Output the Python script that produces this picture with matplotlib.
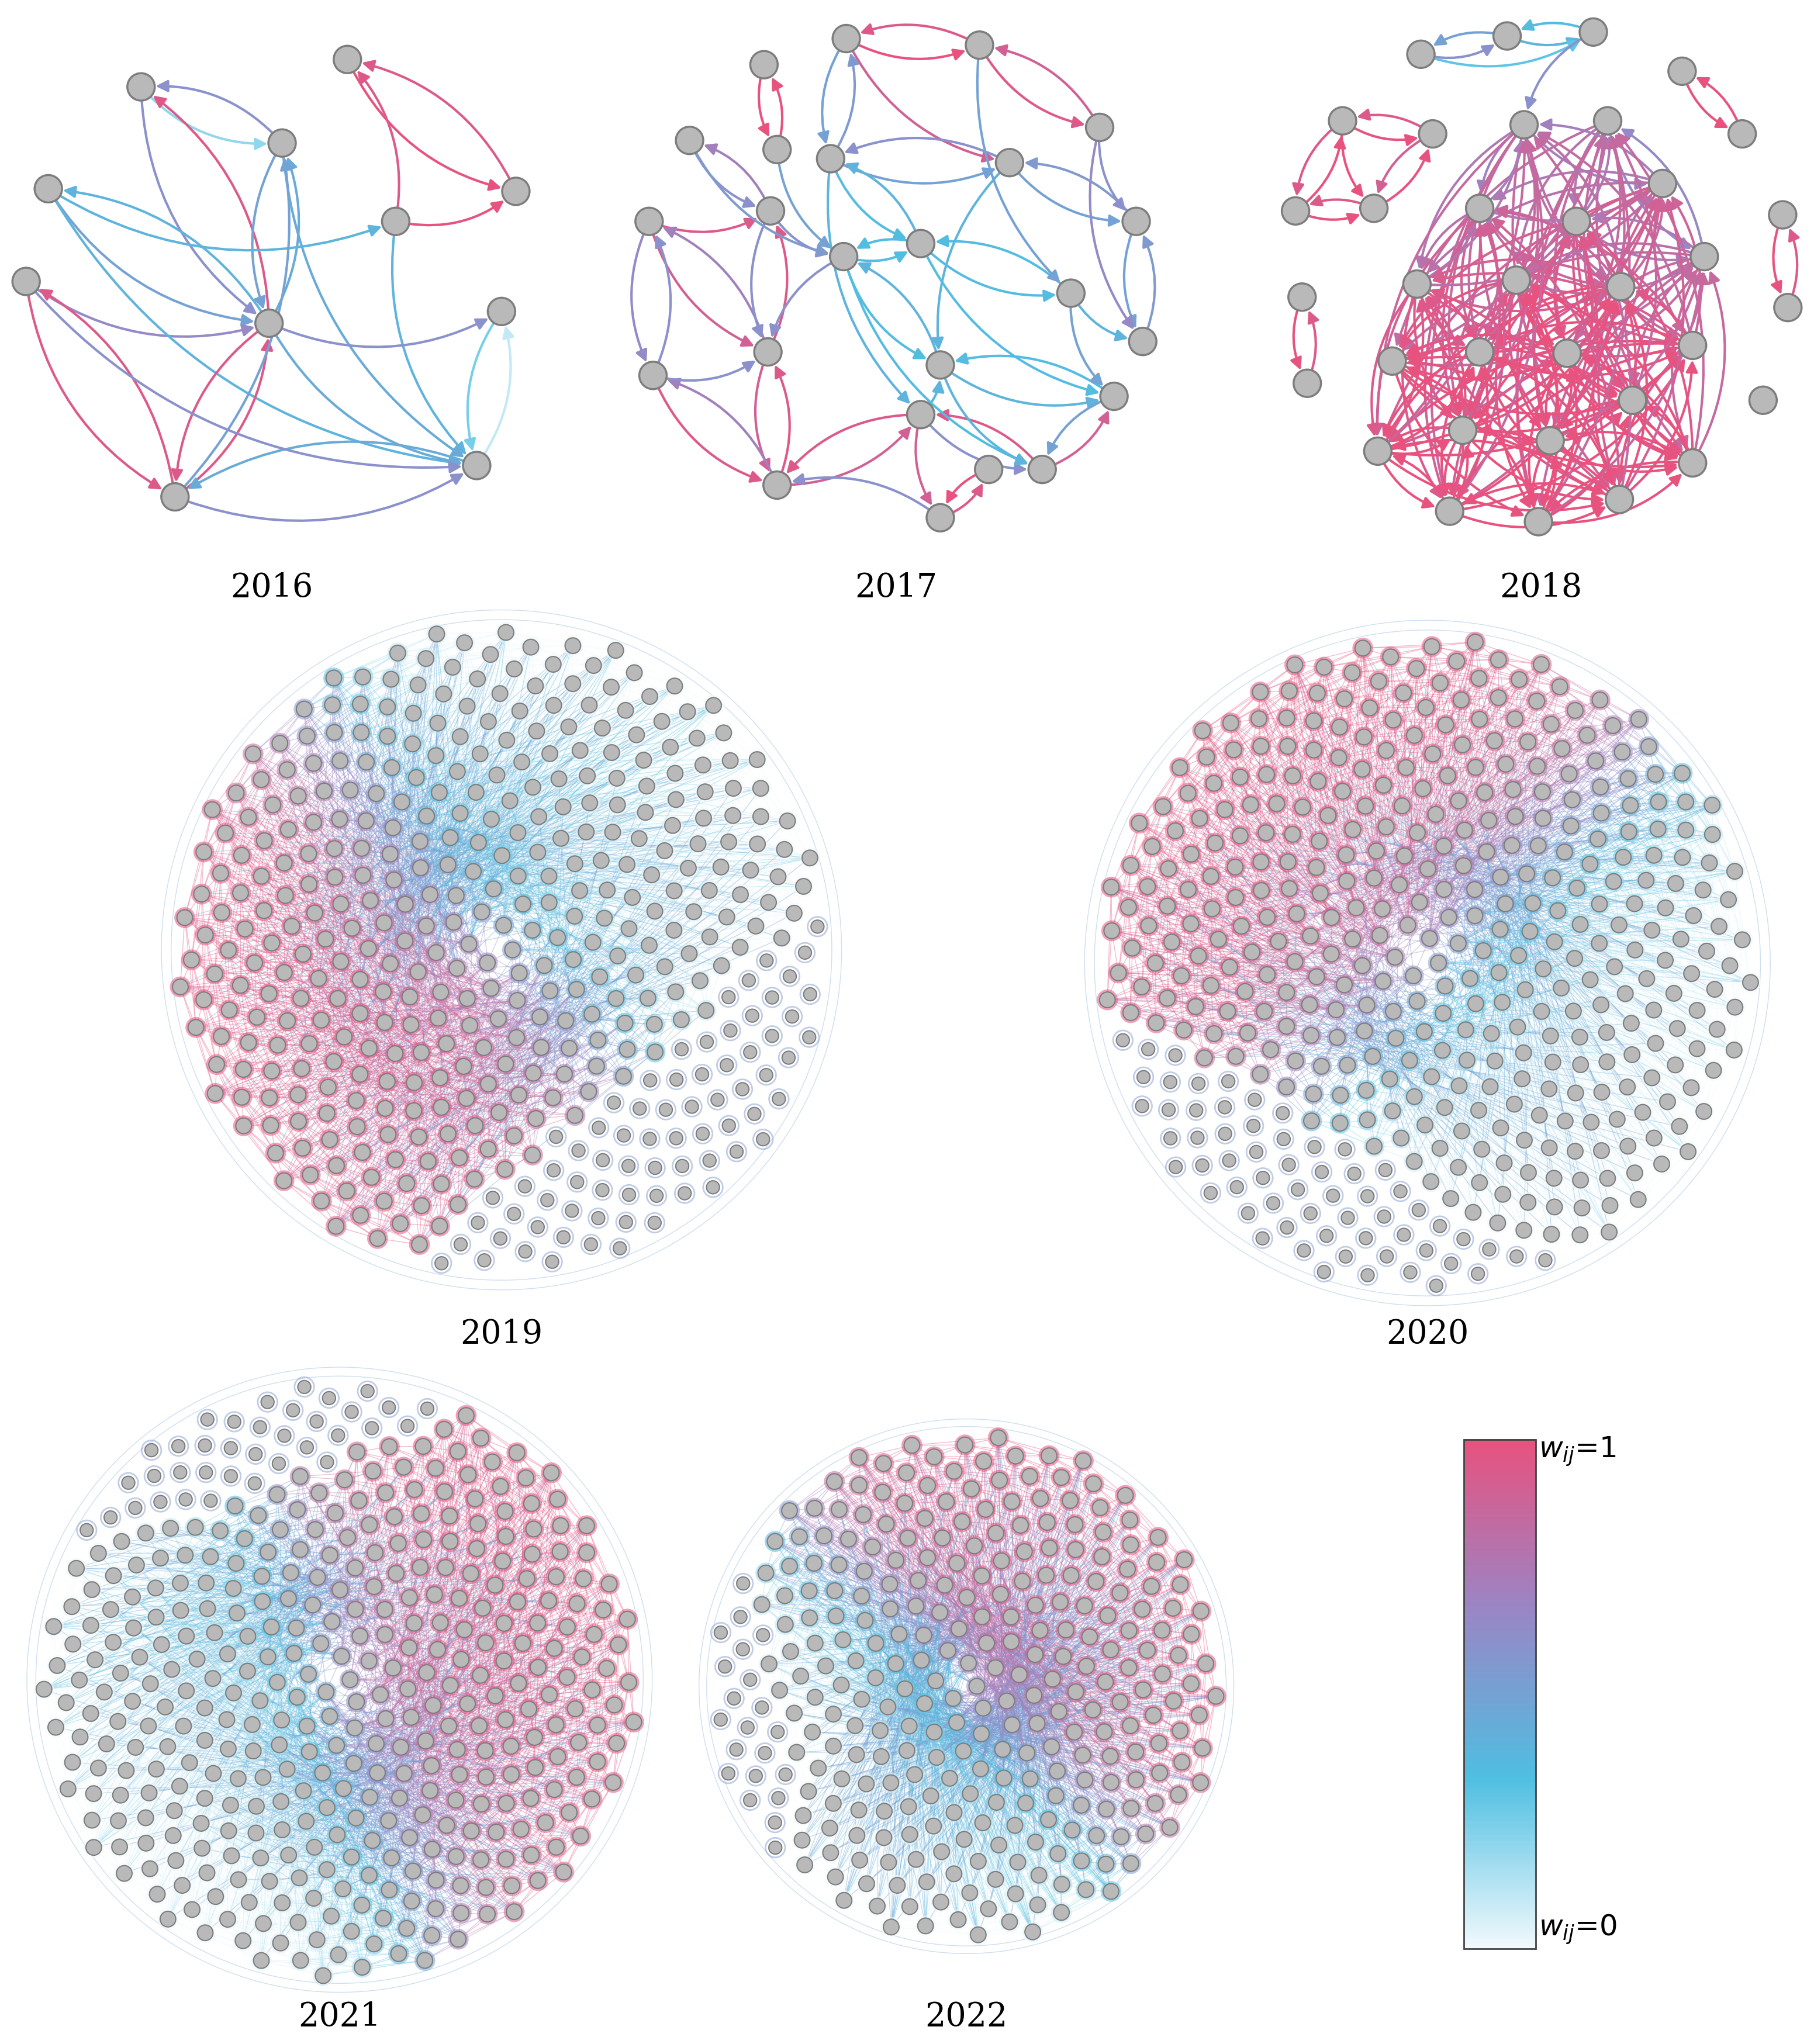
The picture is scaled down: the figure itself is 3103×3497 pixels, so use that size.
import numpy as np
import matplotlib
matplotlib.use("Agg")
import matplotlib.pyplot as plt
from matplotlib.patches import FancyArrowPatch, Circle, Rectangle
from matplotlib.collections import LineCollection
from matplotlib.colors import LinearSegmentedColormap

cmap = LinearSegmentedColormap.from_list("w", ["#f2fafd", "#4fbfe2", "#9a86c6", "#e8527f"])

# ---------------- data: small networks (node positions in layout units, edges with weights) ----
years = ["2016", "2017", "2018", "2019", "2020", "2021", "2022"]
label_pos = [(208, 450), (686, 450), (1180, 450), (384, 1022), (1093, 1022), (260, 1545), (740, 1545)]

nodes16 = [(108, 67), (266, 46), (216, 110), (37, 145), (303, 170), (395, 147), (20, 216),
           (206, 248), (384, 239), (365, 357), (134, 381)]
edges16 = [(1, 5, 1.0), (5, 1, 0.95), (4, 5, 1.0), (4, 1, 0.95), (0, 2, 0.2), (2, 0, 0.6),
           (0, 7, 0.6), (7, 0, 0.95), (3, 7, 0.5), (7, 3, 0.4), (6, 7, 0.65), (3, 9, 0.4),
           (4, 9, 0.4), (2, 9, 0.45), (6, 10, 0.95), (10, 6, 0.95), (7, 10, 0.95), (10, 7, 0.95),
           (7, 9, 0.45), (9, 10, 0.45), (10, 9, 0.6), (8, 9, 0.25), (9, 8, 0.1), (2, 7, 0.5),
           (7, 2, 0.45), (3, 4, 0.4), (7, 8, 0.6), (10, 2, 0.5), (6, 9, 0.6)]

nodes17 = [(585, 50), (595, 115), (648, 30), (750, 35), (842, 98), (773, 125), (636, 122),
           (528, 108), (590, 162), (497, 170), (870, 170), (705, 187), (646, 197), (820, 225),
           (588, 270), (720, 280), (875, 262), (500, 288), (705, 318), (853, 304), (595, 372),
           (720, 397), (757, 360), (798, 360)]
edges17 = [(0, 1, 1.0), (1, 0, 1.0), (2, 3, 1.0), (3, 2, 0.95), (2, 5, 0.9), (3, 4, 0.95),
           (4, 3, 0.9), (6, 5, 0.5), (5, 6, 0.6), (6, 11, 0.35), (11, 6, 0.4), (2, 6, 0.5),
           (6, 2, 0.55), (7, 8, 0.6), (8, 7, 0.7), (9, 8, 0.95), (9, 14, 0.9), (14, 9, 0.7),
           (8, 14, 0.6), (14, 8, 0.95), (12, 11, 0.35), (11, 12, 0.35), (12, 15, 0.35),
           (15, 12, 0.4), (11, 13, 0.35), (13, 11, 0.35), (5, 10, 0.5), (10, 5, 0.55),
           (4, 10, 0.6), (10, 16, 0.5), (16, 10, 0.55), (13, 16, 0.4), (15, 19, 0.4),
           (19, 15, 0.35), (13, 19, 0.5), (18, 15, 0.4), (14, 20, 0.9), (20, 14, 0.95),
           (17, 20, 0.95), (20, 17, 0.7), (17, 14, 0.6), (18, 20, 0.95), (20, 18, 0.9),
           (18, 21, 0.9), (21, 20, 0.6), (22, 21, 1.0), (21, 22, 0.95), (23, 18, 0.95),
           (18, 23, 0.6), (19, 23, 0.5), (23, 19, 0.9), (12, 23, 0.35), (6, 18, 0.4),
           (5, 15, 0.4), (9, 17, 0.65), (17, 9, 0.6), (1, 12, 0.5), (8, 12, 0.6), (3, 13, 0.5),
           (11, 19, 0.35), (12, 14, 0.6), (7, 12, 0.55), (4, 16, 0.65), (15, 23, 0.4)]

nodes18 = [(1088, 42), (1154, 28), (1220, 25), (1288, 55), (1334, 103), (1028, 93), (1097, 103),
           (992, 162), (1052, 160), (997, 228), (1001, 294), (1365, 165), (1369, 236), (1350, 307),
           (1167, 96), (1231, 93), (1133, 160), (1207, 170), (1273, 141), (1305, 197), (1085, 218),
           (1161, 215), (1241, 220), (1066, 277), (1133, 270), (1200, 271), (1296, 265), (1250, 307),
           (1120, 330), (1187, 338), (1055, 346), (1296, 355), (1110, 392), (1178, 400), (1240, 383)]
edges18_small = [(0, 1, 0.6), (1, 0, 0.5), (1, 2, 0.4), (2, 1, 0.35), (0, 2, 0.3), (3, 4, 1.0),
                 (4, 3, 1.0), (5, 6, 1.0), (6, 5, 0.95), (7, 5, 1.0), (5, 7, 0.95), (7, 8, 1.0),
                 (8, 7, 0.95), (8, 6, 1.0), (6, 8, 0.9), (5, 8, 1.0), (9, 10, 1.0), (10, 9, 0.95),
                 (11, 12, 1.0), (12, 11, 0.95), (2, 14, 0.6)]
core18 = list(range(14, 35))
core18_w = [0.6, 0.6, 0.7, 0.8, 0.7, 0.6, 0.8, 0.9, 0.9, 0.95, 1.0, 1.0, 0.95, 1.0, 1.0, 1.0,
            1.0, 1.0, 1.0, 1.0, 1.0]

# ---------------- data: large networks (node counts and layout regions) ----------------
big_n = [430, 440, 400, 300]
big_center = [(384, 728), (1093, 738), (260, 1287), (740, 1292)]
big_radius = [248, 250, 228, 195]
pink_dir = [140, 225, 340, 315]          # direction (deg, y down) of the strongly weighted lobe
gap_dir = [50, 120, 250, 170]            # direction of the sparse crescent of isolated nodes
gap_thr = [0.55, 0.6, 0.7, 0.75]

fig = plt.figure(figsize=(31.03, 34.98), dpi=100)
ax = fig.add_axes([0, 0, 1, 1])
ax.set_xlim(0, 1389)
ax.set_ylim(1566, 0)
ax.axis("off")

NODE_FC, NODE_EC = "#b9b9b9", "#7d7d7d"

def draw_small(nodes, edges, r=10.5):
    for a, b, w in edges:
        p = FancyArrowPatch(nodes[a], nodes[b], connectionstyle="arc3,rad=0.25",
                            arrowstyle="-|>", mutation_scale=30, lw=3.0,
                            color=cmap(w), shrinkA=16, shrinkB=18, zorder=2)
        ax.add_patch(p)
    for (x, y) in nodes:
        ax.add_patch(Circle((x, y), r, fc=NODE_FC, ec=NODE_EC, lw=2.5, zorder=5))

draw_small(nodes16, edges16)
draw_small(nodes17, edges17)
e18 = list(edges18_small)
for i, a in enumerate(core18):
    for j, b in enumerate(core18):
        if a != b and (i + j) % 2 == 0:
            e18.append((a, b, min(1.0, 0.5 * (core18_w[i] + core18_w[j]) + 0.05)))
draw_small(nodes18, e18)

def draw_big(n, c, R, pdir, gdir, thr):
    k = np.arange(n)
    rr = R * np.sqrt((k + 0.5) / n)
    th = k * np.deg2rad(137.508)
    x = c[0] + rr * np.cos(th)
    y = c[1] + rr * np.sin(th)
    ang = np.arctan2(y - c[1], x - c[0])
    proj = np.cos(ang - np.deg2rad(pdir)) * (rr / R)
    w = 1 / (1 + np.exp(-(proj + 0.05) * 7))
    gapness = np.cos(ang - np.deg2rad(gdir)) * (rr / R)
    iso = gapness > thr
    segs, cols = [], []
    for i in range(n):
        if iso[i]:
            continue
        for d in (1, 8, 13, 21, 34, 55, 89, 144, 233):
            j = (i + d) % n
            if iso[j]:
                continue
            segs.append([(x[i], y[i]), (x[j], y[j])])
            cols.append(cmap(0.5 * (w[i] + w[j])))
    ax.add_collection(LineCollection(segs, colors=cols, linewidths=1.0, alpha=0.4, zorder=1))
    for i in range(n):
        if iso[i]:
            # isolated node pairs: short coloured arrows
            ax.add_patch(Circle((x[i], y[i]), 7.5, fc="none", ec=cmap(0.55), lw=2,
                                alpha=0.5, zorder=3))
        else:
            ax.add_patch(Circle((x[i], y[i]), 8.0, fc=cmap(w[i]), ec="none",
                                alpha=0.55, zorder=3))
    tt = np.linspace(0, 2 * np.pi, 300)
    for s in (1.02, 1.05):
        ax.plot(c[0] + R * s * np.cos(tt), c[1] + R * s * np.sin(tt), color=cmap(0.5),
                lw=1, alpha=0.35, zorder=1)
    sz = np.where(iso, 5.0, 6.0)
    for i in range(n):
        ax.add_patch(Circle((x[i], y[i]), sz[i], fc=NODE_FC, ec=NODE_EC, lw=1.5, zorder=5))

for i in range(4):
    draw_big(big_n[i], big_center[i], big_radius[i], pink_dir[i], gap_dir[i], gap_thr[i])

for yr, (lx, ly) in zip(years, label_pos):
    ax.text(lx, ly, yr, ha="center", va="center", fontsize=40, family="DejaVu Serif")

# colorbar
grad = np.linspace(1, 0, 256).reshape(-1, 1)
ax.imshow(grad, cmap=cmap, extent=(1121, 1176, 1493, 1103), aspect="auto", zorder=4)
ax.add_patch(Rectangle((1121, 1103), 55, 390, fc="none", ec="#444444", lw=2, zorder=6))
ax.text(1178, 1112, r"$w_{ij}$=1", fontsize=36, ha="left", va="center")
ax.text(1178, 1478, r"$w_{ij}$=0", fontsize=36, ha="left", va="center")
ax.set_xlim(0, 1389)
ax.set_ylim(1566, 0)

fig.savefig("out.png", dpi=100)
